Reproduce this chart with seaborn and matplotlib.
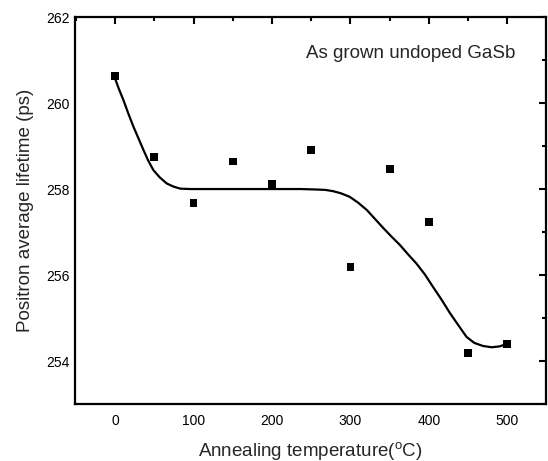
import matplotlib
matplotlib.use("Agg")
import matplotlib.pyplot as plt
import seaborn as sns
import pandas as pd
from matplotlib.ticker import MultipleLocator

# measured data
temps = [0, 50, 100, 150, 200, 250, 300, 350, 400, 450, 500]
lifetimes = [260.62, 258.75, 257.68, 258.64, 258.12, 258.90, 256.18, 258.46, 257.24, 254.19, 254.40]

# fitted curve
curve_t = [0, 5, 10.6, 17, 23.4, 30, 36.1, 42, 48.8, 57, 65.8, 74, 82.8, 95, 120, 160, 200, 236, 255, 268,
           278, 288, 299, 310, 321, 331, 342, 352, 363, 373, 384, 395, 405, 416, 427, 438, 448, 458, 469, 480, 490, 500]
curve_y = [260.57, 260.32, 260.07, 259.75, 259.45, 259.17, 258.91, 258.67, 258.44, 258.27, 258.13, 258.06, 258.01, 258.0, 258.0, 258.0, 258.0, 258.0, 257.99, 257.98,
           257.95, 257.90, 257.82, 257.68, 257.51, 257.31, 257.09, 256.90, 256.70, 256.49, 256.27, 256.01, 255.73, 255.43, 255.11, 254.82, 254.56, 254.42, 254.35, 254.32, 254.34, 254.40]

points = pd.DataFrame({"t": temps, "y": lifetimes})
curve = pd.DataFrame({"t": curve_t, "y": curve_y})

sns.set_style("white")
plt.rcParams['font.family'] = ['Liberation Sans', 'DejaVu Sans']
plt.rcParams['mathtext.fontset'] = 'custom'
plt.rcParams['mathtext.rm'] = 'Liberation Sans'
plt.rcParams['mathtext.it'] = 'Liberation Sans'

fig = plt.figure(figsize=(5.48, 4.61), dpi=100)
ax = fig.add_axes([0.137, 0.1236, 0.859, 0.8394])

sns.lineplot(data=curve, x="t", y="y", ax=ax, color="black", linewidth=1.6, sort=False)
sns.scatterplot(data=points, x="t", y="y", ax=ax, marker="s", color="black", s=32, edgecolor="none", zorder=3)

ax.set_xlim(-51, 549)
ax.set_ylim(253, 262)
ax.xaxis.set_major_locator(MultipleLocator(100))
ax.xaxis.set_minor_locator(MultipleLocator(50))
ax.yaxis.set_major_locator(MultipleLocator(2))
ax.yaxis.set_minor_locator(MultipleLocator(1))
ax.tick_params(which="both", direction="in", top=True, right=True, width=1.5, labelsize=10, colors="black")
ax.tick_params(which="major", length=5)
ax.tick_params(which="minor", length=3)
ax.tick_params(axis="x", pad=7)
ax.tick_params(axis="y", pad=4)
for s in ax.spines.values():
    s.set_linewidth(1.6)
    s.set_color("black")

ax.set_xlabel(r"Annealing temperature($^{\rm o}$C)", fontsize=13.5, labelpad=9)
ax.set_ylabel("Positron average lifetime (ps)", fontsize=13.5, labelpad=9)
ax.text(0.49, 0.894, "As grown undoped GaSb", transform=ax.transAxes, fontsize=13.5, va="baseline", ha="left")

fig.savefig("out.png", dpi=100)
